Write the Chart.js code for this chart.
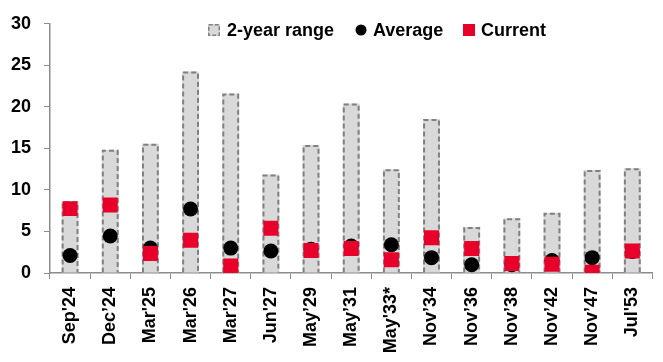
<!DOCTYPE html>
<html>
<head>
<meta charset="utf-8">
<script src="https://cdn.jsdelivr.net/npm/chart.js@4/dist/chart.umd.min.js"></script>
<style>
  html, body { margin: 0; padding: 0; background: #ffffff; }
  #wrap { width: 663px; height: 362px; }
</style>
</head>
<body>
<div id="wrap"><canvas id="c" width="663" height="362"></canvas></div>
<script>
// Maturities (bond lines)
const categories = ["Sep'24", "Dec\u201924", "Mar'25", "Mar'26", "Mar'27", "Jun'27", "May\u201929", "May\u201931",
  "May'33*", "Nov\u201934", "Nov\u201936", "Nov\u201938", "Nov\u201942", "Nov\u201947", "Jul'53"];

// Top of the 2-year range
const rangeHigh = [8.65, 14.85, 15.55, 24.25, 21.6, 11.85, 15.4, 20.4, 12.5, 18.55, 5.55, 6.6, 7.25, 12.4, 12.6];
// 2-year average
const average = [2.1, 4.45, 3.0, 7.7, 3.0, 2.65, 2.85, 3.25, 3.4, 1.85, 1.0, 1.0, 1.5, 1.85, 2.6];
// Current reading
const current = [7.75, 8.2, 2.35, 3.95, 0.85, 5.4, 2.7, 2.95, 1.6, 4.25, 2.95, 1.15, 1.05, 0.1, 2.65];

const yTicks = [0, 5, 10, 15, 20, 25, 30];

const FONT = "'Liberation Sans', Arial, sans-serif";
const RED = '#e8002a';
const BAR_FILL = '#d9d9d9';
const BAR_EDGE = '#808080';
const AXIS = '#8c8c8c';

// Dashed outline around each range bar, drawn right after the bar dataset
const dashedBars = {
  id: 'dashedBars',
  afterDatasetDraw(chart, args) {
    if (args.meta.type !== 'bar') return;
    const ctx = chart.ctx;
    ctx.save();
    ctx.strokeStyle = BAR_EDGE;
    ctx.lineWidth = 2;
    ctx.setLineDash([5, 3]);
    args.meta.data.forEach(el => {
      const p = el.getProps(['x', 'y', 'base', 'width'], true);
      const l = p.x - p.width / 2 + 1, r = p.x + p.width / 2 - 1;
      ctx.beginPath();
      ctx.moveTo(l, p.base);
      ctx.lineTo(l, p.y + 1);
      ctx.lineTo(r, p.y + 1);
      ctx.lineTo(r, p.base);
      ctx.stroke();
    });
    ctx.restore();
  }
};

// Legend row across the top of the plot
const topLegend = {
  id: 'topLegend',
  afterDraw(chart) {
    const ctx = chart.ctx;
    const ds = chart.data.datasets;
    const cy = 30;
    ctx.save();
    ctx.font = 'bold 18px ' + FONT;
    ctx.fillStyle = '#000';
    ctx.textBaseline = 'middle';
    ctx.textAlign = 'left';

    // range swatch
    ctx.fillStyle = BAR_FILL;
    ctx.fillRect(208, cy - 6, 12, 12);
    ctx.strokeStyle = BAR_EDGE;
    ctx.lineWidth = 1.5;
    ctx.setLineDash([4, 2]);
    ctx.strokeRect(208.75, cy - 5.25, 10.5, 10.5);
    ctx.setLineDash([]);
    ctx.fillStyle = '#000';
    ctx.fillText(ds[0].label, 227, cy + 1);

    // average swatch
    ctx.beginPath();
    ctx.arc(361, cy, 5.5, 0, Math.PI * 2);
    ctx.fill();
    ctx.fillText(ds[1].label, 373, cy + 1);

    // current swatch
    ctx.fillStyle = RED;
    ctx.fillRect(463, cy - 6, 12, 12);
    ctx.fillStyle = '#000';
    ctx.fillText(ds[2].label, 481, cy + 1);
    ctx.restore();
  }
};

new Chart(document.getElementById('c'), {
  data: {
    labels: categories,
    datasets: [
      {
        type: 'bar',
        label: '2-year range',
        data: rangeHigh,
        backgroundColor: BAR_FILL,
        borderWidth: 0,
        categoryPercentage: 1,
        barPercentage: 0.42,
        order: 3
      },
      {
        type: 'line',
        label: 'Average',
        data: average,
        showLine: false,
        pointStyle: 'circle',
        pointRadius: 7.5,
        pointHoverRadius: 7.5,
        pointBackgroundColor: '#000',
        pointBorderWidth: 0,
        order: 2
      },
      {
        type: 'line',
        label: 'Current',
        data: current,
        showLine: false,
        pointStyle: 'rect',
        pointRadius: 10.6,
        pointHoverRadius: 10.6,
        pointBackgroundColor: RED,
        pointBorderWidth: 0,
        order: 1
      }
    ]
  },
  options: {
    responsive: false,
    animation: false,
    events: [],
    layout: { padding: { top: 20, right: 0, left: 0, bottom: 0 } },
    plugins: {
      legend: { display: false },
      tooltip: { enabled: false }
    },
    scales: {
      x: {
        offset: true,
        grid: {
          display: true,
          offset: true,
          drawOnChartArea: false,
          drawTicks: true,
          tickLength: 6,
          color: AXIS,
          lineWidth: 1
        },
        border: { display: true, color: AXIS, width: 1.5 },
        ticks: {
          autoSkip: false,
          minRotation: 90,
          maxRotation: 90,
          padding: 8,
          color: '#000',
          font: { family: FONT, size: 18, weight: 'bold' }
        },
        afterFit(s) { s.height = 89; }
      },
      y: {
        min: 0,
        max: 30,
        afterBuildTicks(s) { s.ticks = yTicks.map(v => ({ value: v })); },
        grid: {
          display: true,
          drawOnChartArea: false,
          drawTicks: true,
          tickLength: 6,
          color: AXIS,
          lineWidth: 1
        },
        border: { display: true, color: AXIS, width: 1.5 },
        ticks: {
          padding: 13,
          color: '#000',
          font: { family: FONT, size: 18, weight: 'bold' }
        },
        afterFit(s) { s.width = 50; }
      }
    }
  },
  plugins: [dashedBars, topLegend]
});
</script>
</body>
</html>
